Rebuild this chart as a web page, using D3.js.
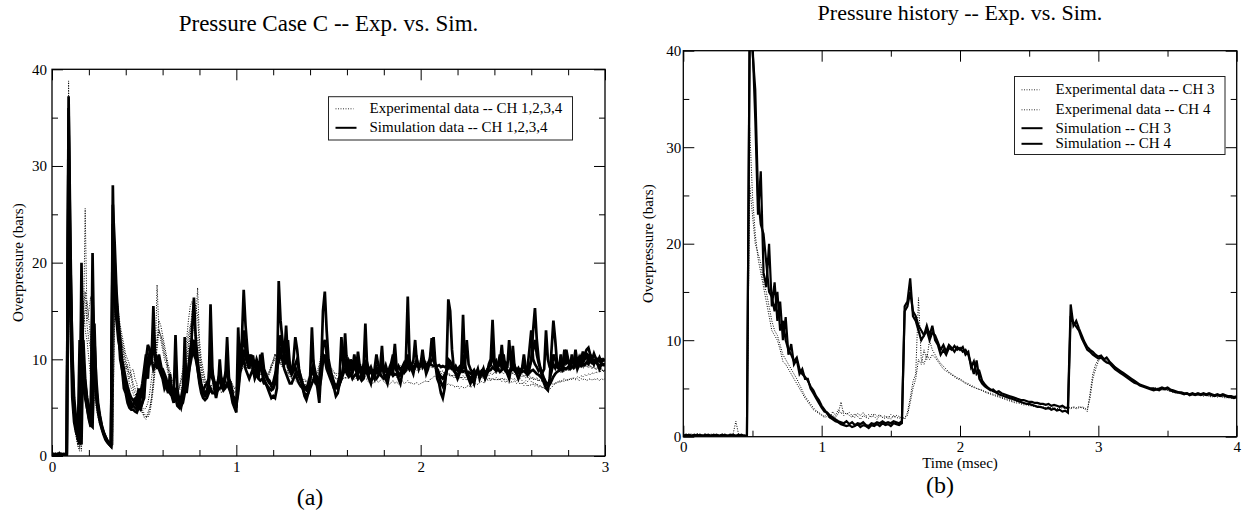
<!DOCTYPE html>
<html lang="en">
<head>
<meta charset="UTF-8">
<title>Pressure -- Exp. vs. Sim.</title>
<script src="https://cdn.jsdelivr.net/npm/d3@7"></script>
<style>
  body { margin: 0; background: #fff; }
  svg text { font-family: "Liberation Serif", "Times New Roman", serif; fill: #000; }
</style>
</head>
<body>
<svg id="chart" width="1253" height="517"></svg>
<script>
// ---------- panel (a): overpressure (bars), one sample every 0.01 ms ----------
const aStep = 0.01
const aSim1 = [
  0.2,0.1,0.2,0.1,0.3,0.1,0.2,0.1,0.3,37.2,
  22,10,5,3,1.8,1.2,20,9,6.5,5,
  3.8,3,21,9,6,4.5,3.5,2.8,2.2,1.7,
  1.4,1.2,1,28,16,14,12,11,9,8,
  7,6.8,5.5,5,5.2,6,5,7,5,5.5,
  6,9,8,11,10,15.5,10,9,10.5,9.5,
  8.5,8,7.5,6.5,8.5,6.5,6,12.5,7,5.5,
  5,6,12.3,6.5,8,10,13,16.4,12,10,
  8,7,6.5,6.2,6.5,7,15.7,9,7,6,
  7,10,7.5,7,8,12.3,8,6.5,5.5,5,
  4.5,13.3,9,12,17.2,13.5,11,9,10.5,9,
  8.5,9.5,8,10.5,8.5,8,7.5,7,6.5,6,
  6.2,6,7,18.1,14,12,10,13.5,10,9,
  8.5,10,12.3,11,9,8,7,6.2,5.8,6.5,
  8,13.3,9,8,7,5.5,9,15,17,13,
  10,9,8,7,6.2,6.5,7.5,8,9,12.7,
  9.5,8.5,10,9,10.5,9,8.5,9.5,8,9,
  13.7,9,8,7.5,8.5,8,9,8.5,9,11.4,
  8.5,8,7.5,8.5,9,9.5,11.6,9,8,7.5,
  8.5,9,10,16.5,10,9,8.5,9.5,10,9,
  9.5,11,9.5,8.5,9,10,11,12.3,9.5,8,
  7.5,6.5,6,7,9,16.2,15,11,9,8.5,
  8,8.5,9,14.6,9.5,8.5,8,7.5,8,7.5,
  8.5,9,8,8.5,9,8,8.5,9.5,10,14.1,
  10,9,9.5,10.5,9,10.5,9,8.5,8,9,
  11.4,9,8.5,8,8.5,9,10.5,9,8.5,9,
  10,13,15.3,12,10,9,8,7.5,7,6.8,
  8,11,14,12,9.5,9,10.5,9,10,11,
  10,9,10.5,9.5,10,9,9.5,10,9.5,10.5,
  11,11.2,10.5,10,9.5,10,9.5,9,9.5,9.5,
  9.5
]
const aSim2 = [
  0.1,0.2,0.1,0.2,0.1,0.2,0.1,0.2,0.2,30,
  14,6,3.5,2.5,2,12,8,7,6,5,
  4,3.2,3,13.7,7,5,4,3,2.4,2,
  1.6,1.4,1.2,20,18,15,13,10,9,7,
  6.5,5.5,5,4.8,4.8,4.6,4.5,5,4.8,5.5,
  7.5,8.5,10,9.5,10,9,9.5,10,9,8.5,
  8,7,7.5,6.8,6.5,6.2,5.5,7,6.5,6,
  5.5,6,7,8,9,10.5,11,10.5,10,9,
  7.5,6.5,6,5.8,6,6.5,7,6.5,6.5,7,
  6.8,7,7.2,6.8,7,7.5,7,6.5,6.2,6,
  5.5,7,9,9.5,10,9,8.5,8,8.5,9,
  8,8.5,8,7.8,8,7.5,7.5,7.2,7,6.8,
  7,8,10,10.5,11,10,9,8.5,8,7.5,
  7.5,8,8.5,8,7.5,7.2,7,6.5,6.3,6.5,
  7,7.5,8,7.5,7.5,8,9.5,10.5,10,9,
  8.5,8,7.5,7,7,7.2,7.5,8,8.5,9,
  8.5,8.2,8.5,8,8.3,8.5,8,8.2,7.8,8,
  9,8.5,8,7.8,8,8.2,8,8.3,8.5,8.2,
  8,8.3,8.1,8.4,8.6,8.3,8.5,8.4,8.2,8.5,
  8.8,8.6,8.9,9.2,9,9.1,9.3,9.2,9.4,9.3,
  9.5,9.4,9.5,9.3,9.4,9.5,9.4,9.3,9.4,9.3,
  9.4,9.2,9.3,9.2,9.3,9.1,9.2,9,9.1,8.9,
  9,8.8,8.9,8.7,8.8,8.6,8.7,8.5,8.6,8.4,
  8.5,8.6,8.4,8.5,8.7,8.5,8.6,8.8,8.9,9.2,
  9,8.8,9,8.7,8.9,9.1,8.8,8.6,8.7,8.9,
  9,8.8,8.6,8.7,8.9,8.7,8.8,8.6,8.4,8.6,
  8.8,8.9,8.7,8.5,8.4,8.2,8,7.8,7.5,7.2,
  7.4,7.8,8.2,8.5,8.7,8.8,9,8.8,9.1,9,
  9.2,9,9.3,9.1,9.4,9.2,9.5,9.3,9.6,9.4,
  9.7,9.5,9.8,9.6,9.9,9.7,10,9.8,10,9.9,
  10
]
const aSim3 = [
  0.1,0.2,0.1,0.2,0.1,0.2,0.1,0.1,0.2,34,
  18,9,4.5,3,2.2,1.6,1.2,12,8,6,
  5,4,3.5,12,8,5.5,4.2,3.2,2.5,2,
  1.6,1.3,1.1,24,20,16,13.5,11,9.5,8,
  7.2,6.5,6,5.5,5.2,5,4.8,5.5,6,6.5,
  8,10,11.5,11,10.5,11,10,9.5,10,9,
  8.5,7.5,7,7.5,7,6.5,6,6.5,6,5.5,
  5.2,5.5,6.5,7.5,9,11,12,11.5,10.5,9.5,
  8.5,7.5,6.8,6.5,6.8,7.5,9,8,7.5,7.5,
  7.5,8,7.2,7.5,8.5,9,8,7.5,6.5,5.5,
  5,9,10,10.5,13,11,10,9.5,10.2,9.2,
  9.5,8.8,9.8,9,10.7,9,8.5,8,7.8,7.2,
  7,7.5,8.5,11,12.5,11,10.5,9.5,12,9.5,
  9,8.8,9.5,10,8.8,8.2,7.5,7,6.8,7.2,
  7.8,9,9.5,8.5,8,7.5,8.5,11.5,12,10.5,
  9.2,8.8,8.2,7.6,7.2,7.5,8.2,12.3,9.5,9.8,
  9,9.8,9.2,8.8,9.6,9,10.8,9.2,8.8,9.4,
  9,9.6,8.8,9.2,8.6,9,10.5,9.4,8.8,9.2,
  8.9,9.4,8.7,9.1,9.6,10.5,9.2,8.8,9.3,8.9,
  9.2,9.6,9.1,9.5,9,9.4,9.8,12,9.5,9.2,
  9.6,9.2,9.8,9.3,9.6,10,12.2,9.8,9.4,9,
  8.5,8.2,8,8.4,8.8,9.2,9.6,9.4,9,9.3,
  8.9,9.2,8.8,9.1,9.4,12,9.5,9,8.6,8.9,
  8.5,8.8,8.4,8.7,8.3,8.6,8.9,9.2,9.6,10.5,
  9.4,9.8,9.2,9.5,11.5,9.3,9.6,9.1,12,9.4,
  9,9.3,8.8,9.1,8.7,9,9.4,8.9,9.2,11,
  13,10,9.5,9.2,8.8,9,8.6,9,13,10,
  9.2,8.8,9.5,9.1,9.6,9.2,10,9.4,11,9.6,
  9.8,9.3,9.9,9.5,11,9.6,10.2,9.7,10.8,10,
  10.3,9.8,10.4,10,10.6,10.1,9.8,10.2,9.7,10,
  9.8
]
const aSim4 = [
  0.2,0.1,0.2,0.1,0.2,0.1,0.2,0.2,0.1,36,
  20,11,6,4,2.5,1.8,15,10,7.5,6,
  4.8,3.8,16,10,6.5,5,3.8,3,2.4,1.9,
  1.5,1.2,1,26,22,17,14,12,10,9,
  8,7.2,6.5,6,5.8,5.5,6.2,5.8,6.5,7.5,
  9,10.5,9.5,10.5,11,12,10.5,10,9.5,9,
  9,8.5,8,7,7.5,7,6.5,6,5.2,5,
  6,7,8,9,8.5,9.5,10.5,12,11,9,
  7.8,7,6.8,7.2,7.5,8,10.5,8.5,7.8,7.2,
  7.8,8.5,8,7.6,8.2,8.8,7.5,7,6.2,5.8,
  5.2,6.5,8.5,9.5,11,10.2,9.6,10.5,9.8,10.4,
  9.2,10,9.4,9.8,9,8.6,8.2,7.8,7.5,7.4,
  7.6,8.4,9,9.8,10.5,10,9.4,10.5,9.2,8.8,
  8.4,8.8,9.2,8.6,8.2,7.8,7.4,7.2,7,7.5,
  8.2,8.8,8.4,7.8,7.2,7,8,9.8,10.5,9.6,
  9,8.5,8,7.5,7.2,7,7.4,8,9.2,9.6,
  9,9.6,9,8.6,9.4,8.8,9.5,8.9,8.5,9.1,
  9.6,8.9,8.5,8.8,8.3,8.7,9.2,8.8,8.5,9.5,
  8.6,9,8.4,8.8,9.2,8.7,9.8,8.9,8.6,8.4,
  8.8,9.1,9.3,10.5,9.4,9,8.8,9.4,9.6,9.2,
  9.4,9.8,9.2,8.9,9.3,9.6,9.9,10.2,9.4,8.8,
  8.2,7.6,7.2,7.8,8.6,10,9.8,9.4,8.8,8.6,
  8.4,8.7,9,10.5,9.2,8.7,8.3,8,8.3,8,
  8.6,8.9,8.5,8.8,9,8.5,8.8,9.2,9.4,11,
  9.6,9.2,9.5,9.9,9.3,9.8,9.2,8.9,8.6,9.1,
  9.8,9.2,8.9,8.6,8.8,9.1,9.6,9.2,8.9,9.3,
  9.8,11,12,10.5,9.6,9,8.5,8,7.6,7.4,
  7.8,9,10.5,10,9.2,9,9.6,9.2,9.7,10.2,
  9.9,9.4,10,9.6,10.1,9.5,9.8,10.3,9.8,10.2,
  10.6,10.4,10,9.8,9.6,9.9,9.5,9.3,9.6,9.4,
  9.4
]
const aExp1 = [
  0.1,0.2,0.1,0.1,0.2,0.1,0.2,0.1,0.1,38.8,
  16,8,4,3,1.5,2.5,0.5,12,25.6,14,
  15,16.5,14,8,6,4.5,3.5,2.8,2.3,2,
  1.7,1.5,1.2,1,20.5,16,14.5,13,12,11,
  10,9,8.5,8.8,9,8,7.5,6,5,4.5,
  4,3.8,4.5,5,6,8,10,17.7,13,12.5,
  11.5,10.5,10,9,8,7.5,7,6.8,6.5,7,
  8,9,10.5,12,14,15.5,16,15,14,17.4,
  12,10,9,8,7.5,7,7,6.8,7,6.5,
  6.8,7,6.5,7,7.5,7,7.2,7.5,7,6.5,
  6.5,8,10,9.5,10.5,9.5,9,10,9.5,10,
  9,9.5,9,8.5,8.2,8,7.8,8,8.5,9,
  10,10.5,10,9.5,10,9.5,9,8.5,8.7,8.3,
  8,8.2,8,7.8,7.5,7.6,7.5,7.3,7.5,7.6,
  7.8,8,8.2,8,8.3,9,10,9.5,9.8,9.5,
  9,8.8,8.5,8.3,8,8,7.8,8,8.2,8,
  8.3,8.1,8.2,8,7.9,8.1,7.8,8,7.7,7.9,
  8.2,7.8,7.6,7.8,7.5,7.7,7.9,7.6,7.8,8,
  7.7,7.5,7.7,7.4,7.6,7.8,7.5,7.7,7.4,7.6,
  7.8,7.5,7.6,7.8,7.5,7.6,7.4,7.5,7.6,7.4,
  7.5,7.6,7.7,7.8,7.6,7.9,8,8.2,8.3,8.1,
  8,7.8,7.5,7.4,7.3,7.5,7.3,7.4,7.2,7.1,
  7.3,7,7.2,7.1,7,7.2,7.3,7.1,7.2,7.4,
  7.5,7.4,7.6,7.7,7.6,7.8,7.9,7.8,8,7.9,
  8,7.8,8,7.9,8.1,7.9,8,7.8,8,8.1,
  7.9,8,7.8,7.9,8,7.8,7.6,7.8,7.7,7.9,
  7.7,7.6,7.5,7.4,7.3,7.2,7.1,7,6.9,6.8,
  6.9,7.1,7.3,7.5,7.6,7.8,7.7,7.9,8,7.8,
  8,7.9,8.1,8,7.9,8,7.8,8,7.9,8,
  7.8,7.9,8,7.8,8,7.9,8,7.8,8,7.9,
  8
]
const aExp2 = [
  0.2,0.1,0.2,0.2,0.1,0.2,0.1,0.2,0.2,33,
  12,6,4,2.5,1,0.5,14,16,13,12,
  10,8,7,6,5,4,3.2,2.6,2,1.8,
  1.5,1.3,1.1,2.5,15,14,13,12.5,11.5,10.5,
  9.5,8.5,7.5,7,6.5,6,5.5,5.2,5,5,
  4.8,5,5.5,6.5,8,9.5,11,12,13,12.5,
  12,11,10,9,8.5,8,7.5,7,6.5,6.8,
  7,7.5,8.5,9.5,11,12.5,14,15,13,12,
  10.5,9,8,7.5,7,6.8,7,7.5,7.2,7,
  7.5,7.8,7.5,7.8,8,7.5,7.8,7.5,7.2,7,
  7.2,8.5,9,8.8,9.5,9,9.2,9,9.5,8.8,
  9.2,9,8.6,8.8,8.5,8.7,8.4,8.6,8.8,9.2,
  9.5,10.2,10.5,9.8,9.5,9.2,9,8.8,8.5,8.7,
  8.4,8.6,8.3,8.5,8.2,8,7.8,8,7.7,8,
  8.2,8.5,8.3,8.6,8.8,9.5,10.5,10,10.2,9.8,
  9.5,9.2,9,8.7,8.5,8.6,8.4,8.7,9,9.5,
  10.5,9.8,10,9.5,10.2,9.6,9.3,9.6,9.2,9.5,
  9.8,9.3,9,9.2,8.8,9,9.3,9,8.8,9.2,
  8.9,8.7,8.5,8.7,8.4,8.6,8.3,8.5,8.2,8.4,
  8.3,8.5,8.7,8.9,9,8.8,9.1,8.9,9.2,9,
  9.3,9.1,9.4,9.2,9.5,9.3,9.6,9.4,9.2,9,
  8.8,8.6,8.4,8.6,8.3,8.5,8.2,8.4,8.1,8.3,
  8,8.2,8,8.3,8.1,8.4,8.2,8.5,8.3,8.6,
  8.4,8.7,8.5,8.8,8.6,8.9,8.7,9,8.8,9.1,
  8.9,9.2,8.9,9.1,8.8,9,8.7,8.9,8.6,8.8,
  8.5,8.7,8.4,8.6,8.3,8.5,8.2,8.4,8.1,8.3,
  8,8.2,7.9,8.1,7.8,8,7.7,7.9,7.6,7.5,
  7.7,7.9,8.2,8.4,8.7,8.9,8.7,9,8.8,9.1,
  8.9,9.2,9,9.3,9.1,9.4,9.2,9.5,9.3,9.6,
  9.4,9.2,9.4,9.1,9.3,9,9.2,8.9,9.1,8.8,
  9
]
const aExp3 = [
  0.1,0.1,0.2,0.1,0.2,0.1,0.1,0.2,0.1,35,
  14,7,3.5,2,1.2,0.8,10,13,15,16,
  14,12,9,7,5.5,4.2,3.4,2.7,2.2,1.9,
  1.6,1.4,1.2,1.1,18,15,13.5,12.5,11.5,10,
  9,9.5,8,8.5,7.5,7,6.5,5.5,5,4.5,
  4.2,4,4.2,4.8,6,7.5,9.5,11,13,12,
  11,10,9.5,8.5,7.8,7.2,6.8,6.5,6.8,7.2,
  7.8,8.5,9.5,11,12.5,13.5,14,13,12,11,
  10,8.5,7.8,7.2,7,6.8,6.5,6.8,6.5,6.8,
  7,7.2,7,7.3,7,7.4,7.1,7,6.8,6.6,
  6.8,7.5,8.5,9,9.2,9.6,9.2,9.4,9,9.6,
  9.4,9.8,9.3,8.9,8.6,8.3,8.1,8.3,8.8,9.5,
  9.8,10,10.3,10,9.6,9.3,8.9,8.6,8.3,8.2,
  8.1,7.9,7.8,7.6,7.4,7.3,7.2,7,7.2,7.4,
  7.6,7.8,7.9,7.7,8,8.6,9.5,9.8,9.6,9.3,
  9,8.7,8.4,8.2,8,7.8,7.7,7.8,8,8.1,
  8,8.2,8.3,8.1,8.4,8.2,8.5,8.3,8.6,8.4,
  8.7,8.5,8.8,8.6,8.9,8.7,9,8.8,8.6,8.9,
  8.7,9,8.8,9.1,8.9,9.2,9,9.3,9.1,9.4,
  9.2,9.5,9.3,9.6,9.4,9.7,9.5,9.8,9.6,9.9,
  9.7,9.9,9.6,9.8,9.5,9.7,9.4,9.6,9.3,9.5,
  9.2,9.4,9.1,9.3,9,9.2,8.9,9.1,8.8,9,
  8.7,8.9,8.6,8.8,8.5,8.7,8.4,8.6,8.3,8.5,
  8.2,8.4,8.1,8.3,8,8.2,7.9,8.1,7.8,8,
  7.9,8.1,7.8,8,7.7,7.9,7.6,7.8,7.5,7.7,
  7.6,7.8,7.5,7.7,7.4,7.6,7.3,7.5,7.2,7.4,
  7.3,7.5,7.2,7.4,7.1,7.3,7,7.2,7,7.1,
  7.3,7.5,7.4,7.6,7.5,7.7,7.6,7.8,7.7,7.9,
  7.8,8,7.9,8.1,8,8.2,8.1,8.3,8.2,8.4,
  8.3,8.5,8.4,8.6,8.5,8.7,8.6,8.8,8.7,8.9,
  8.8
]
const aExp4 = [
  0.2,0.1,0.1,0.2,0.1,0.2,0.2,0.1,0.2,36.5,
  15,7.5,3.8,2.2,1.1,1.8,4,15,17,13.5,
  12,11,10,7.5,6,5,3.8,3,2.4,2.1,
  1.8,1.5,1.3,1.2,19,17,15,13.5,12.5,11.5,
  10.5,10,9.5,8,7,6.5,6,5.8,5.2,4.8,
  4.4,4.1,4,4.4,5.5,7,9,12,14,13.5,
  12.5,11.5,10.5,9.5,8.8,8,7.4,7,6.8,7,
  7.5,8,9,10,11.5,13,15,16,15.5,14.5,
  11,9.5,8.5,7.8,7.2,7,6.8,7,7.2,6.8,
  7.2,7.5,7.2,7.6,7.8,7.3,7.6,7.8,7.4,7,
  7,8.2,9.4,9.8,10,9.6,9.8,10.2,9.7,9.4,
  9.6,9.2,9.4,9,8.7,8.4,8.2,8.4,8.6,9.4,
  9.8,10.6,10.2,9.9,9.6,9.4,9.1,8.9,8.8,8.5,
  8.6,8.4,8.2,8.4,8,7.8,7.6,7.8,7.6,7.8,
  8,8.3,8.6,8.4,8.5,9.2,10.2,10.4,10,9.6,
  9.3,9,8.8,8.6,8.4,8.2,8.1,8.3,8.6,9,
  9.8,9.4,9.6,9.2,9.5,9.1,9.3,9,9.2,8.9,
  9.2,8.9,8.7,8.9,8.6,8.8,9,8.7,8.5,8.8,
  8.6,8.4,8.6,8.3,8.5,8.2,8.4,8.1,8.3,8.5,
  8.6,8.8,8.6,8.9,8.7,8.9,8.8,9,8.8,9.1,
  8.9,9.1,9,9.2,9,9.3,9.1,9.2,9,9.1,
  8.9,8.7,8.8,8.5,8.6,8.4,8.5,8.2,8.4,8.1,
  8.3,8,8.2,7.9,8.1,7.8,8,7.8,8.1,7.9,
  8.2,8,8.3,8.1,8.4,8.2,8.5,8.3,8.6,8.4,
  8.7,8.5,8.8,8.6,8.7,8.5,8.8,8.6,8.7,8.5,
  8.6,8.4,8.5,8.3,8.4,8.2,8.3,8.1,8.2,8,
  8.1,7.9,8,7.8,7.9,7.7,7.8,7.6,7.5,7.3,
  7.5,7.8,8.1,8.4,8.6,8.8,8.6,8.9,8.7,9,
  8.8,9.1,8.9,9.2,9,9.3,9.1,9.4,9.2,9.5,
  9.3,9.1,9.3,9,9.2,8.9,9.1,8.8,9,8.7,
  8.9
]

// ---------- panel (b): overpressure (bars), one sample every 0.02 ms ----------
const bStep = 0.02
const bExp3 = [
  0.2,0.1,0.2,0.3,0.1,0.2,0.1,0.2,0.3,0.1,
  0.2,0.1,0.2,0.1,0.3,0.1,0.2,0.1,0.3,1.6,
  0.2,0.1,0.2,0.1,32,25,21,18.5,17,15.5,
  14,12.5,11,10.5,10,9,7.8,7.5,7,6.5,
  6,5.5,5,4.5,4,3.6,3.2,2.8,2.6,2.4,
  2.2,2,2.1,1.9,2.2,2,2.4,3.6,2.2,2.5,
  2.2,2,2.4,2.1,1.8,2.2,2,1.9,2.3,2.1,
  1.8,2.2,2,1.9,2.1,1.8,2.2,2,1.9,2.1,
  1.8,2.5,4,5.7,6.5,14.4,8,7.5,8.5,8,
  8.5,8.2,7.8,7.4,7,6.8,6.6,6.4,6.2,6,
  5.9,5.7,5.5,5.4,5.2,5.1,5,4.9,4.8,4.7,
  4.6,4.5,4.4,4.3,4.2,4.1,4,3.9,3.8,3.7,
  3.7,3.6,3.5,3.5,3.4,3.3,3.3,3.2,3.2,3.1,
  3.1,3,3.1,3,3,2.9,3,3.1,3,3.1,
  3,3.1,3,3.1,3,2.9,2.6,4.5,6.5,7.5,
  8,8.3,8.2,8.1,7.8,7.5,7.3,7,6.8,6.6,
  6.4,6.2,6,5.8,5.6,5.4,5.3,5.2,5.1,5,
  5,5.1,4.9,5,4.9,4.8,4.7,4.7,4.6,4.5,
  4.5,4.4,4.5,4.4,4.3,4.4,4.3,4.4,4.3,4.3,
  4.2,4.3,4.2,4.3,4.2,4.1,4.2,4.1,4,4.1,
  4
]
const bExp4 = [
  0.1,0.2,0.1,0.2,0.1,0.3,0.2,0.1,0.2,0.1,
  0.3,0.1,0.2,0.2,0.1,0.2,0.1,0.3,0.2,0.1,
  0.1,0.2,0.1,0.2,26,23,20,19,18,16,
  15,13.5,12,11,10.5,9.5,8.5,8,7.5,7,
  6.5,6,5.4,4.8,4.2,3.8,3.4,3,2.7,2.5,
  2.3,2.1,2.4,2,2.6,2.2,2.8,2.4,2.6,2.3,
  2.5,2.2,2,2.4,2.2,2.5,2.1,2.3,2,2.4,
  2.1,2.3,2,2.2,1.9,2.3,2,2.2,2.1,1.9,
  2,2.2,3.5,5,6,8,7.5,9,8,10,
  9,8.5,8,7.6,7.3,7,6.7,6.5,6.3,6.1,
  6,5.8,5.6,5.5,5.3,5.2,5,4.9,4.8,4.6,
  4.5,4.4,4.3,4.2,4.1,4,3.9,3.8,3.7,3.6,
  3.5,3.5,3.4,3.3,3.3,3.2,3.2,3.1,3.1,3,
  3,2.9,3,2.8,2.9,2.8,2.9,3,2.9,3,
  2.9,3,2.9,3,3.1,3,2.8,4,6,7,
  7.8,8.2,8,7.9,7.7,7.4,7.2,6.9,6.7,6.5,
  6.3,6.1,5.9,5.7,5.5,5.3,5.2,5.1,5,4.9,
  5,4.9,5,4.8,4.9,4.8,4.7,4.6,4.6,4.5,
  4.4,4.5,4.4,4.3,4.4,4.3,4.4,4.3,4.2,4.3,
  4.2,4.1,4.2,4.1,4.2,4.1,4,4.1,4,4,
  4.1
]
const bSim3 = [
  0.1,0.1,0.2,0.1,0.1,0.2,0.1,0.1,0.2,0.1,
  0.1,0.2,0.1,0.1,0.2,0.1,0.1,0.2,0.1,0.1,
  0.2,0.1,0.1,0.1,43,41,33,23,27.5,17,
  15.5,20,13.5,16,12,14,10,12.4,8.5,9.6,
  7.5,8,6.5,7,6,6,5,4.5,4,3.5,
  3,2.6,2.5,2.2,2,1.8,1.6,1.5,1.4,1.6,
  1.3,1.5,1.2,1.4,1.3,1.5,1.2,1.1,1.4,1.3,
  1.5,1.4,1.6,1.4,1.5,1.4,1.6,1.5,1.4,1.6,
  13.5,14,16.4,12.5,12,11,10,10.5,11.5,10.5,
  11.5,10,9.5,8.5,9,8.5,9.2,9,9.4,9,
  9.2,8.8,9,8.5,7.5,6.5,7.9,6,5.5,5.2,
  5,4.8,4.9,4.6,4.7,4.5,4.4,4.3,4.2,4.1,
  4,3.9,3.8,3.8,3.7,3.6,3.6,3.5,3.5,3.4,
  3.4,3.3,3.4,3.2,3.3,3.2,3.1,3.2,3,3,
  13.7,11.5,12,11.2,10.5,9.8,9.3,9,8.8,8.5,
  8.3,8.4,8,8.2,7.8,7.5,7.2,7,6.8,6.6,
  6.4,6.2,6,5.8,5.6,5.4,5.3,5.2,5.1,5,
  5,4.9,5,5.1,5,5.1,4.9,4.8,4.7,4.6,
  4.6,4.5,4.5,4.4,4.5,4.4,4.5,4.4,4.5,4.4,
  4.5,4.4,4.3,4.4,4.3,4.4,4.3,4.2,4.2,4.1,
  4.2
]
const bSim4 = [
  0.1,0.2,0.1,0.1,0.2,0.1,0.2,0.1,0.1,0.2,
  0.1,0.1,0.2,0.1,0.1,0.2,0.1,0.1,0.2,0.1,
  0.1,0.2,0.1,0.1,42,40,36,25,22,21,
  18,15,14.5,13,15,11,12,10,9,8.5,
  7.8,8.2,7,6.5,6.2,5.8,5.2,4.8,4.2,3.8,
  3.2,2.8,2.4,2,1.8,1.6,1.5,1.3,1.2,1.1,
  1.2,1,1.1,1.3,1,1.2,1.1,0.9,1.2,1.1,
  1.3,1.1,1.4,1.2,1.3,1.1,1.4,1.3,1.2,1.4,
  13,13.5,15,13,12.5,11.5,11,10.5,11,10,
  10.8,10.5,9.8,9,9.5,8.8,9.5,9.2,8.8,9.3,
  9,9.3,8.5,8.8,7.2,7.8,6.5,6.8,5.8,5.4,
  5.1,4.9,4.7,4.6,4.4,4.3,4.2,4.1,4,3.9,
  3.8,3.7,3.6,3.5,3.4,3.4,3.3,3.2,3.1,3.1,
  3,2.9,3,2.8,2.9,2.7,2.8,2.6,2.7,2.5,
  12.5,11.8,11.4,11,10.2,9.6,9,8.8,8.5,8.3,
  8.1,8.2,7.9,7.7,7.6,7.3,7,6.8,6.6,6.4,
  6.2,6,5.8,5.6,5.5,5.3,5.2,5.1,5,4.9,
  4.8,4.9,4.8,5,4.9,5,4.8,4.7,4.6,4.6,
  4.5,4.4,4.5,4.3,4.4,4.3,4.4,4.3,4.4,4.3,
  4.4,4.3,4.2,4.3,4.2,4.3,4.2,4.1,4.1,4,
  4.1
]

// ticks
const aMajorX = [0, 1, 2, 3]
const aMinorX = [0.2, 0.4, 0.6, 0.8, 1.2, 1.4, 1.6, 1.8, 2.2, 2.4, 2.6, 2.8]
const bMajorX = [0, 1, 2, 3, 4]
const bMinorX = [0.5, 1.5, 2.5, 3.5]
const majorY = [0, 10, 20, 30, 40]
const minorY = [5, 15, 25, 35]

const svg = d3.select('#chart')

const panels = [
  {
    id: 'a', left: 52, right: 605, top: 69.3, bottom: 456, xMax: 3,
    xMajor: aMajorX, xMinor: aMinorX, yPad: 5,
    title: 'Pressure Case C -- Exp. vs. Sim.', titleY: 30.5, titleSize: 23,
    yLabelX: 22.6, xLabel: null,
    tag: '(a)', tagX: 310, tagY: 505,
    step: aStep, simWidth: 2.7,
    exp: [aExp1, aExp2, aExp3, aExp4], sim: [aSim1, aSim2, aSim3, aSim4],
    legend: { x: 328.5, y: 96.7, w: 244, h: 43.3,
      items: [
        { text: 'Experimental data -- CH 1,2,3,4', dotted: true, y: 113.3 },
        { text: 'Simulation data -- CH 1,2,3,4', dotted: false, y: 132.3 }
      ] }
  },
  {
    id: 'b', left: 683.3, right: 1236.7, top: 50.7, bottom: 436.7, xMax: 4,
    xMajor: bMajorX, xMinor: bMinorX, yPad: 2,
    title: 'Pressure history -- Exp. vs. Sim.', titleY: 20, titleSize: 22,
    yLabelX: 653.2, xLabel: 'Time (msec)',
    tag: '(b)', tagX: 940, tagY: 493,
    step: bStep, simWidth: 2.2,
    exp: [bExp3, bExp4], sim: [bSim3, bSim4],
    legend: { x: 1014.5, y: 76.5, w: 210.5, h: 78,
      items: [
        { text: 'Experimental data -- CH 3', dotted: true, y: 94.3 },
        { text: 'Experimenal data -- CH 4', dotted: true, y: 114.3 },
        { text: 'Simulation -- CH 3', dotted: false, y: 132.7 },
        { text: 'Simulation -- CH 4', dotted: false, y: 148.3 }
      ] }
  }
]

panels.forEach(drawPanel)

function drawPanel(p) {
  const x = d3.scaleLinear().domain([0, p.xMax]).range([p.left, p.right])
  const y = d3.scaleLinear().domain([0, 40]).range([p.bottom, p.top])

  svg.append('clipPath').attr('id', 'clip-' + p.id)
    .append('rect')
    .attr('x', p.left).attr('y', p.top)
    .attr('width', p.right - p.left).attr('height', p.bottom - p.top)

  const plot = svg.append('g').attr('clip-path', `url(#clip-${p.id})`)

  const line = d3.line()
    .x((d, i) => x(i * p.step))
    .y(d => y(d))

  p.exp.forEach(s => {
    plot.append('path')
      .datum(s)
      .attr('d', line)
      .attr('fill', 'none')
      .attr('stroke', '#000')
      .attr('stroke-width', 1)
      .attr('stroke-dasharray', '1,1.5')
  })
  p.sim.forEach(s => {
    plot.append('path')
      .datum(s)
      .attr('d', line)
      .attr('fill', 'none')
      .attr('stroke', '#000')
      .attr('stroke-width', p.simWidth)
  })

  // ticks point inward on all four sides, labels only left and bottom
  const addAxis = (axis, tx, ty, labels) => {
    const g = svg.append('g')
      .attr('transform', `translate(${tx},${ty})`)
      .call(axis)
    g.select('.domain').remove()
    g.selectAll('line').attr('stroke', '#000')
    if (!labels) g.selectAll('text').remove()
    else g.selectAll('text').attr('font-size', 15).style('font-size', '15px')
    return g
  }
  const fmt = d3.format('d')

  addAxis(d3.axisBottom(x).tickValues(p.xMajor).tickSize(-11).tickPadding(5).tickFormat(fmt), 0, p.bottom, true)
  addAxis(d3.axisBottom(x).tickValues(p.xMinor).tickSize(-6), 0, p.bottom, false)
  addAxis(d3.axisTop(x).tickValues(p.xMajor).tickSize(-11), 0, p.top, false)
  addAxis(d3.axisTop(x).tickValues(p.xMinor).tickSize(-6), 0, p.top, false)
  addAxis(d3.axisLeft(y).tickValues(majorY).tickSize(-11).tickPadding(p.yPad).tickFormat(fmt), p.left, 0, true)
  addAxis(d3.axisLeft(y).tickValues(minorY).tickSize(-6), p.left, 0, false)
  addAxis(d3.axisRight(y).tickValues(majorY).tickSize(-11), p.right, 0, false)
  addAxis(d3.axisRight(y).tickValues(minorY).tickSize(-6), p.right, 0, false)

  svg.append('rect')
    .attr('x', p.left).attr('y', p.top)
    .attr('width', p.right - p.left).attr('height', p.bottom - p.top)
    .attr('fill', 'none')
    .attr('stroke', '#000')
    .attr('stroke-width', 1.3)

  svg.append('text')
    .attr('x', (p.left + p.right) / 2)
    .attr('y', p.titleY)
    .attr('text-anchor', 'middle')
    .attr('font-size', p.titleSize)
    .text(p.title)

  svg.append('text')
    .attr('transform', `translate(${p.yLabelX},${(p.top + p.bottom) / 2}) rotate(-90)`)
    .attr('text-anchor', 'middle')
    .attr('font-size', 15)
    .text('Overpressure (bars)')

  if (p.xLabel) {
    svg.append('text')
      .attr('x', (p.left + p.right) / 2)
      .attr('y', 468.3)
      .attr('text-anchor', 'middle')
      .attr('font-size', 15)
      .text(p.xLabel)
  }

  svg.append('text')
    .attr('x', p.tagX)
    .attr('y', p.tagY)
    .attr('text-anchor', 'middle')
    .attr('font-size', 24)
    .text(p.tag)

  // legend
  const lg = p.legend
  svg.append('rect')
    .attr('x', lg.x).attr('y', lg.y)
    .attr('width', lg.w).attr('height', lg.h)
    .attr('fill', '#fff')
    .attr('stroke', '#222')
    .attr('stroke-width', 1)
  lg.items.forEach(it => {
    svg.append('line')
      .attr('x1', lg.x + 7).attr('x2', lg.x + (it.dotted ? 25 : 28))
      .attr('y1', it.y - 4.5).attr('y2', it.y - 4.5)
      .attr('stroke', it.dotted ? '#333' : '#000')
      .attr('stroke-width', it.dotted ? 1 : 2)
      .attr('stroke-dasharray', it.dotted ? '1,1.5' : null)
    svg.append('text')
      .attr('x', lg.x + 41)
      .attr('y', it.y)
      .attr('font-size', 15)
      .text(it.text)
  })
}
</script>
</body>
</html>
